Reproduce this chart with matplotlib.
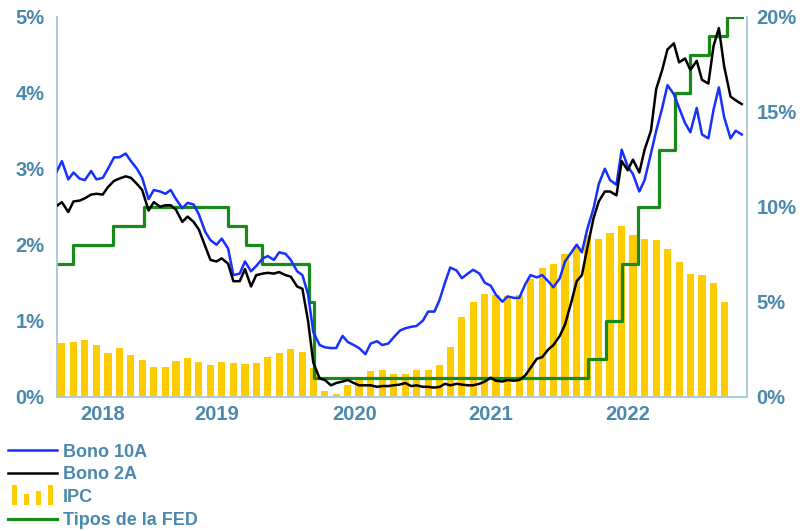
import pandas as pd
import numpy as np
import matplotlib
matplotlib.use("Agg")
import matplotlib.pyplot as plt
from matplotlib.legend_handler import HandlerBase
from matplotlib.patches import Rectangle
from matplotlib.lines import Line2D

# Rentabilidad bonos USA (%), puntos cada medio mes (dias 1 y 15)
fechas_bonos = pd.date_range("2018-05-01", "2023-05-01", freq="SMS")

bono_10a = [
    # 2018 (may-dic)
    2.96, 3.10, 2.86, 2.95, 2.87, 2.85, 2.97, 2.86, 2.88, 3.00, 3.15, 3.15, 3.20, 3.10, 3.00, 2.88,
    # 2019
    2.60, 2.72, 2.70, 2.67, 2.72, 2.60, 2.48, 2.55, 2.53, 2.40, 2.17, 2.06,
    2.00, 2.08, 1.95, 1.60, 1.62, 1.78, 1.65, 1.72, 1.82, 1.85, 1.80, 1.90,
    # 2020
    1.88, 1.80, 1.65, 1.60, 1.35, 0.85, 0.68, 0.65, 0.64, 0.64, 0.80, 0.72,
    0.68, 0.64, 0.56, 0.70, 0.73, 0.68, 0.70, 0.78, 0.87, 0.90, 0.92, 0.93,
    # 2021
    1.00, 1.12, 1.12, 1.28, 1.50, 1.70, 1.66, 1.56, 1.62, 1.67, 1.62, 1.50,
    1.46, 1.34, 1.25, 1.32, 1.30, 1.30, 1.48, 1.60, 1.57, 1.60, 1.52, 1.44,
    # 2022
    1.56, 1.78, 1.90, 2.00, 1.90, 2.20, 2.48, 2.80, 3.00, 2.85, 2.79, 3.25,
    3.03, 2.93, 2.70, 2.85, 3.20, 3.50, 3.80, 4.10, 3.98, 3.80, 3.60, 3.48,
    # 2023 (ene-may)
    3.80, 3.45, 3.40, 3.78, 4.07, 3.68, 3.40, 3.50, 3.45,
]

bono_2a = [
    # 2018 (may-dic)
    2.51, 2.56, 2.43, 2.57, 2.58, 2.61, 2.66, 2.67, 2.66, 2.76, 2.84, 2.87, 2.90, 2.88, 2.80, 2.72,
    # 2019
    2.45, 2.56, 2.50, 2.52, 2.52, 2.46, 2.30, 2.37, 2.30, 2.20, 1.98, 1.80,
    1.78, 1.82, 1.75, 1.52, 1.52, 1.68, 1.45, 1.60, 1.62, 1.63, 1.62, 1.64,
    # 2020
    1.60, 1.58, 1.45, 1.42, 1.00, 0.45, 0.24, 0.22, 0.15, 0.18, 0.20, 0.22,
    0.18, 0.15, 0.15, 0.15, 0.13, 0.14, 0.14, 0.15, 0.16, 0.18, 0.14, 0.15,
    # 2021
    0.13, 0.13, 0.12, 0.13, 0.17, 0.15, 0.17, 0.16, 0.15, 0.15, 0.17, 0.20,
    0.25, 0.21, 0.20, 0.22, 0.21, 0.22, 0.28, 0.38, 0.50, 0.52, 0.62, 0.68,
    # 2022
    0.80, 0.95, 1.25, 1.52, 1.60, 1.95, 2.35, 2.57, 2.70, 2.70, 2.65, 3.10,
    2.98, 3.12, 2.95, 3.25, 3.50, 4.05, 4.30, 4.57, 4.65, 4.40, 4.45, 4.30,
    # 2023 (ene-may)
    4.42, 4.17, 4.12, 4.62, 4.85, 4.35, 3.95, 3.90, 3.85,
]

# IPC interanual (%), eje derecho, mensual may-2018 a mar-2023
fechas_ipc = pd.date_range("2018-05-01", "2023-03-01", freq="MS") + pd.Timedelta(days=14)
ipc = [
    2.85, 2.90, 3.00, 2.72, 2.32, 2.55, 2.22, 1.92,
    1.58, 1.55, 1.88, 2.02, 1.85, 1.67, 1.85, 1.80, 1.74, 1.80, 2.07, 2.28,
    2.50, 2.35, 1.53, 0.32, 0.14, 0.60, 1.00, 1.33, 1.39, 1.20, 1.20, 1.39,
    1.40, 1.67, 2.63, 4.18, 5.00, 5.42, 5.35, 5.30, 5.35, 6.20, 6.80, 7.00,
    7.50, 7.90, 8.50, 8.30, 8.60, 9.00, 8.50, 8.30, 8.25, 7.75, 7.10, 6.45,
    6.40, 6.00, 4.96,
]

# Tipos de la FED (%), fechas de cada cambio
fechas_fed = pd.to_datetime([
    "2018-05-01", "2018-06-14", "2018-09-27", "2018-12-20", "2019-08-01",
    "2019-09-19", "2019-10-31", "2020-03-04", "2020-03-16", "2022-03-17",
    "2022-05-05", "2022-06-16", "2022-07-28", "2022-09-22", "2022-11-03",
    "2022-12-15", "2023-02-02", "2023-03-23", "2023-05-01",
])
tipos_fed = [1.75, 2.0, 2.25, 2.5, 2.25, 2.0, 1.75, 1.25, 0.25, 0.5,
             1.0, 1.75, 2.5, 3.25, 4.0, 4.5, 4.75, 5.0, 5.0]

etiquetas_anio = ["2018", "2019", "2020", "2021", "2022"]
posiciones_anio = pd.to_datetime(["2018-09-01", "2019-07-02", "2020-07-04", "2021-07-01", "2022-07-01"])

COLOR_TEXTO = "#4a89ad"
COLOR_EJE = "#a9cbdc"
FUENTE = ["Liberation Sans", "DejaVu Sans"]

plt.rcParams["font.family"] = FUENTE


class HandlerBarras(HandlerBase):
    def create_artists(self, legend, orig_handle, xdescent, ydescent,
                       width, height, fontsize, trans):
        alturas = [1.0, 0.55, 0.7, 1.0]
        paso = width / len(alturas)
        artistas = []
        for i, h in enumerate(alturas):
            r = Rectangle((-xdescent + i * paso + paso * 0.3, -ydescent - 2),
                          paso * 0.4, (height + 5) * h,
                          facecolor="#ffcc00", edgecolor="none", transform=trans)
            artistas.append(r)
        return artistas


fig = plt.figure(figsize=(8.11, 5.31), dpi=100)
ax = fig.add_axes([0.0703, 0.2529, 0.8508, 0.7156])
ax2 = ax.twinx()

ax2.bar(fechas_ipc, ipc, width=19, color="#ffcc00", zorder=1)
ax2.set_ylim(0, 20)

ax.plot(fechas_bonos, bono_10a, color="#1530ff", lw=1.8, zorder=3)
ax.plot(fechas_bonos, bono_2a, color="black", lw=1.8, zorder=3)
ax.plot(fechas_fed, tipos_fed, color="#178a17", lw=2.3, drawstyle="steps-post", zorder=2)

ax.set_zorder(ax2.get_zorder() + 1)
ax.patch.set_visible(False)

ax.set_xlim(pd.Timestamp("2018-05-02"), pd.Timestamp("2023-05-15"))
ax.set_ylim(0, 5)
ax.set_yticks(np.arange(0, 6, 1))
ax.set_yticklabels([f"{v}%" for v in range(6)])
ax2.set_yticks(np.arange(0, 25, 5))
ax2.set_yticklabels([f"{v}%" for v in range(0, 25, 5)])
ax.set_xticks(posiciones_anio)
ax.set_xticklabels(etiquetas_anio)

for a in (ax, ax2):
    a.spines["top"].set_visible(False)
    for lado in ("left", "right", "bottom"):
        a.spines[lado].set_color(COLOR_EJE)
        a.spines[lado].set_linewidth(1.2)
    a.tick_params(length=0, labelcolor=COLOR_TEXTO, labelsize=14.5)
    for t in a.get_xticklabels() + a.get_yticklabels():
        t.set_fontweight("bold")

ax.tick_params(axis="y", pad=9)
ax2.tick_params(axis="y", pad=7)
ax.tick_params(axis="x", pad=6)

handles = [
    Line2D([], [], color="#1530ff", lw=1.8),
    Line2D([], [], color="black", lw=1.8),
    Rectangle((0, 0), 1, 1, color="#ffcc00"),
    Line2D([], [], color="#178a17", lw=2.3),
]
labels = ["Bono 10A", "Bono 2A", "IPC", "Tipos de la FED"]
leg = fig.legend(handles, labels, loc="upper left", bbox_to_anchor=(0.0099, 0.1645),
                 frameon=False, handlelength=2.7, handletextpad=0.35, labelspacing=0.32,
                 borderaxespad=0, borderpad=0,
                 handler_map={Rectangle: HandlerBarras()},
                 prop={"family": FUENTE, "weight": "bold", "size": 13})
for t in leg.get_texts():
    t.set_color(COLOR_TEXTO)

fig.savefig("out.png", dpi=100)
